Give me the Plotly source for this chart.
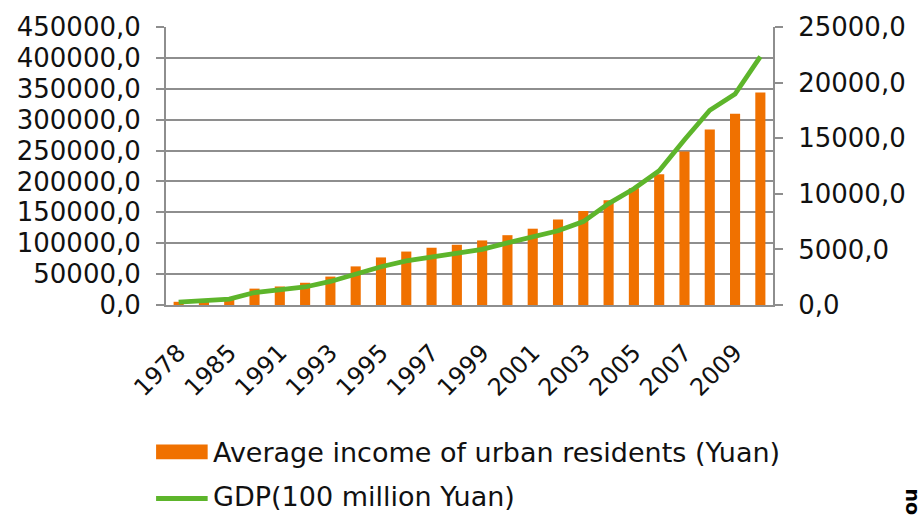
import plotly.graph_objects as go

# Category labels (years) and the two series
years = ["1978", "1980", "1985", "1990", "1991", "1992", "1993", "1994", "1995",
         "1996", "1997", "1998", "1999", "2000", "2001", "2002", "2003", "2004",
         "2005", "2006", "2007", "2008", "2009", "2010"]

income = [5200, 7000, 10600, 26500, 30000, 36000, 46000, 62500, 77000,
          86500, 92700, 97500, 104500, 113000, 123500, 138400, 152200, 169700,
          188800, 211500, 248600, 284200, 309700, 344000]

gdp = [250, 350, 530, 1120, 1320, 1620, 2120, 2800, 3440,
       3970, 4330, 4680, 5000, 5590, 6180, 6680, 7500, 9120,
       10450, 12070, 14860, 17510, 18970, 22340]

shown_years = ["1978", "1985", "1991", "1993", "1995", "1997", "1999",
               "2001", "2003", "2005", "2007", "2009"]

income_name = "Average income of urban residents (Yuan)"
gdp_name = "GDP(100 million Yuan)"

ORANGE = "#F07100"
GREEN = "#5DB52B"
GRID = "#8E8E8E"
FONT = "DejaVu Sans"

W, H = 918, 516
L, R, T, B = 166, 140, 22, 211
PW, PH = W - L - R, H - T - B


def px(x):
    return (x - L) / PW


def py(y):
    return (H - B - y) / PH


fig = go.Figure()
fig.add_trace(go.Bar(x=years, y=income, name=income_name, marker_color=ORANGE,
                     marker_line_width=0, width=0.4, yaxis="y", showlegend=False))
fig.add_trace(go.Scatter(x=years, y=gdp, name=gdp_name, mode="lines",
                         line=dict(color=GREEN, width=4.8), yaxis="y2",
                         showlegend=False))

fig.update_layout(
    width=W, height=H,
    margin=dict(l=L, r=R, t=T, b=B, pad=0),
    paper_bgcolor="white", plot_bgcolor="white",
    separators=",.",
    font=dict(family=FONT, size=26, color="#111111"),
    xaxis=dict(type="category", range=[-0.5, len(years) - 0.5],
               tickmode="array", tickvals=shown_years, ticktext=shown_years,
               tickangle=-45, showgrid=False, showline=True, linecolor=GRID,
               linewidth=2, ticks="", zeroline=False,
               ticklabelstandoff=22, tickfont=dict(size=24)),
    yaxis=dict(range=[0, 450000], dtick=50000, tickformat=".1f",
               showgrid=True, gridcolor=GRID, gridwidth=1.5,
               showline=True, linecolor=GRID, linewidth=2,
               ticks="outside", ticklen=8, tickcolor=GRID, tickwidth=1.5,
               ticklabelstandoff=10, zeroline=False,
               tickfont=dict(size=26)),
    yaxis2=dict(range=[0, 25000], dtick=5000, tickformat=".1f",
                overlaying="y", side="right", showgrid=False,
                showline=True, linecolor=GRID, linewidth=2,
                ticks="outside", ticklen=8, tickcolor=GRID, tickwidth=1.5,
                ticklabelstandoff=10, zeroline=False,
                tickfont=dict(size=26)),
    bargap=0.6,
)

# Legend drawn below the plot: swatches and labels
fig.add_shape(type="rect", xref="paper", yref="paper",
              x0=px(156), x1=px(208), y0=py(447), y1=py(462),
              fillcolor=ORANGE, line_width=0)
fig.add_shape(type="line", xref="paper", yref="paper",
              x0=px(156), x1=px(208), y0=py(502), y1=py(502),
              line=dict(color=GREEN, width=4.8))
fig.add_annotation(xref="paper", yref="paper", x=px(211), y=py(455),
                   text=income_name, showarrow=False, xanchor="left",
                   yanchor="middle", font=dict(size=27, family=FONT))
fig.add_annotation(xref="paper", yref="paper", x=px(211), y=py(500),
                   text=gdp_name, showarrow=False, xanchor="left",
                   yanchor="middle", font=dict(size=27, family=FONT))

# Edge fragment of a vertical caption at the lower right
fig.add_annotation(xref="paper", yref="paper", x=px(919), y=py(490),
                   text="<b>no</b>", showarrow=False, textangle=90,
                   xanchor="center", yanchor="top",
                   font=dict(size=19, family=FONT, color="black"))

fig.write_html("out.html")
